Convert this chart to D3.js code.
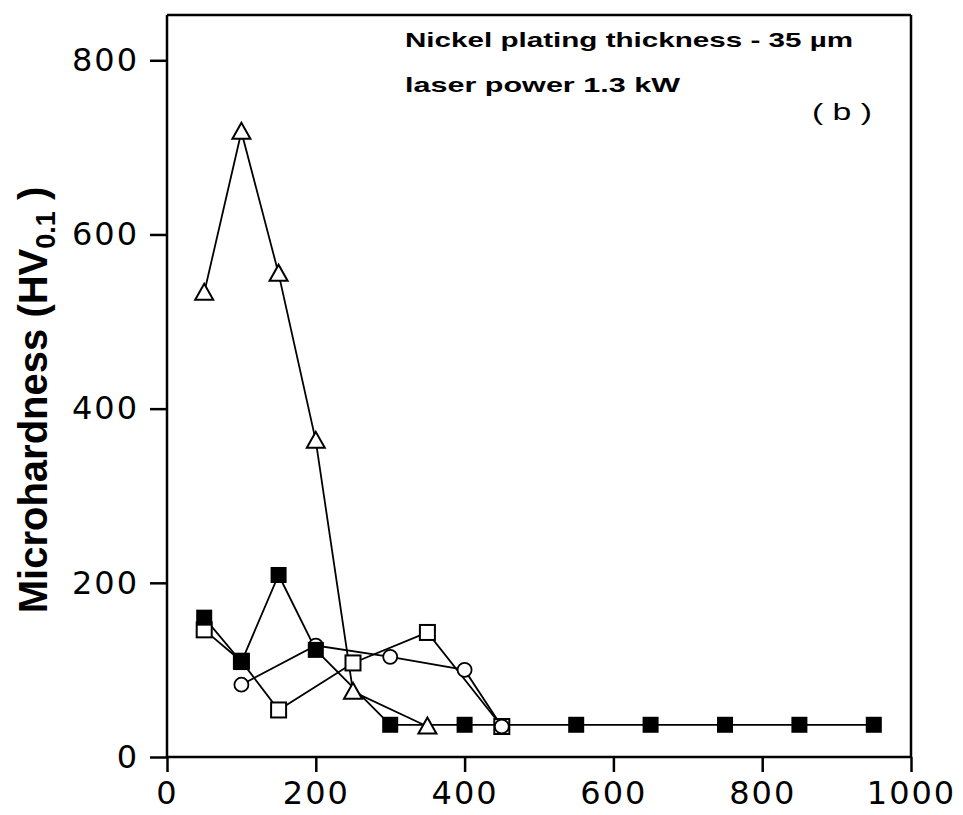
<!DOCTYPE html>
<html><head><meta charset="utf-8">
<script src="https://cdn.jsdelivr.net/npm/d3@7"></script>
<style>body{margin:0;background:#fff}</style>
</head><body>
<svg id="c" width="963" height="815"></svg>
<script>
const xTicks = [0,200,400,600,800,1000];
const yTicks = [0,200,400,600,800];
const triX = [50,100,150,200,250,350];
const triY = [533,718,555,363,75,35];
const filledX = [50,100,150,200,300,400,550,650,750,850,950];
const filledY = [160,109,209,123,37,37,37,37,37,37,37];
const openSqX = [50,100,150,250,350,450];
const openSqY = [146,110,54,108,143,35];
const circX = [100,200,300,400,450];
const circY = [83,128,115,100,35];
const note1 = "Nickel plating thickness -  35 µm";
const note2 = "laser power  1.3 kW";
const panel = "( b )";

const svg = d3.select("#c");
const x = d3.scaleLinear().domain([0,1000]).range([167,911]);
const y = d3.scaleLinear().domain([0,852]).range([757,15]);

// frame
const g = svg.append("g");
g.append("line").attr("x1",x(0)).attr("x2",x(1000)).attr("y1",y(852)).attr("y2",y(852)).attr("stroke","#000").attr("stroke-width",2.5);
g.append("line").attr("x1",x(1000)).attr("x2",x(1000)).attr("y1",y(852)).attr("y2",y(0)).attr("stroke","#000").attr("stroke-width",2.5);

const yAxis = d3.axisLeft(y).tickValues(yTicks).tickSize(17).tickPadding(11).tickFormat(d3.format("d"));
const xAxis = d3.axisBottom(x).tickValues(xTicks).tickSize(15).tickPadding(9).tickFormat(d3.format("d"));
const ya = svg.append("g").attr("transform",`translate(${x(0)},0)`).call(yAxis);
const xa = svg.append("g").attr("transform",`translate(0,${y(0)})`).call(xAxis);
[ya,xa].forEach(a=>{
  a.select(".domain").attr("stroke","#000").attr("stroke-width",2.5);
  a.selectAll(".tick line").attr("stroke","#000").attr("stroke-width",2.5);
  a.selectAll(".tick text").attr("fill","#000").style("font-family","DejaVu Sans, sans-serif").style("font-size","32px").style("letter-spacing","2px");
});
ya.select(".domain").attr("d",`M-0,${y(852)}V${y(0)}`);
xa.select(".domain").attr("d",`M${x(0)},0H${x(1000)}`);
xa.selectAll(".tick text").attr("dy","0.71em");

// lines
const line = d3.line().x(d=>x(d[0])).y(d=>y(d[1]));
const series = [
  {xs:openSqX, ys:openSqY},
  {xs:circX, ys:circY},
  {xs:triX, ys:triY},
  {xs:filledX, ys:filledY}
];
series.forEach(s=>{
  svg.append("path").datum(s.xs.map((v,i)=>[v,s.ys[i]])).attr("d",line)
    .attr("fill","none").attr("stroke","#000").attr("stroke-width",1.8);
});

// markers
svg.append("g").selectAll("rect").data(openSqX.map((v,i)=>[v,openSqY[i]])).join("rect")
  .attr("x",d=>x(d[0])-7.5).attr("y",d=>y(d[1])-7.5).attr("width",15).attr("height",15)
  .attr("fill","#fff").attr("stroke","#000").attr("stroke-width",2);
svg.append("g").selectAll("circle").data(circX.map((v,i)=>[v,circY[i]])).join("circle")
  .attr("cx",d=>x(d[0])).attr("cy",d=>y(d[1])).attr("r",7)
  .attr("fill","#fff").attr("stroke","#000").attr("stroke-width",1.8);
svg.append("g").selectAll("path").data(triX.map((v,i)=>[v,triY[i]])).join("path")
  .attr("d",d=>{const cx=x(d[0]),cy=y(d[1]);return `M${cx},${cy-9}L${cx+9},${cy+7}L${cx-9},${cy+7}Z`;})
  .attr("fill","#fff").attr("stroke","#000").attr("stroke-width",2);
svg.append("g").selectAll("rect").data(filledX.map((v,i)=>[v,filledY[i]])).join("rect")
  .attr("x",d=>x(d[0])-8).attr("y",d=>y(d[1])-8).attr("width",16).attr("height",16)
  .attr("fill","#000");

// annotations
const tf = "Liberation Sans, Arial, sans-serif";
svg.append("text").attr("x",405).attr("y",47).text(note1)
  .style("font-family",tf).style("font-weight","bold").style("font-size","21px").attr("textLength",448).attr("lengthAdjust","spacingAndGlyphs");
svg.append("text").attr("x",405).attr("y",92).text(note2)
  .style("font-family",tf).style("font-weight","bold").style("font-size","21px").attr("textLength",275).attr("lengthAdjust","spacingAndGlyphs");
svg.append("text").attr("x",812).attr("y",120).text(panel)
  .style("font-family",tf).style("font-size","24px").attr("textLength",60).attr("lengthAdjust","spacingAndGlyphs");

// y label
const yl = svg.append("text").attr("transform","translate(47,400) rotate(-90)").attr("text-anchor","middle")
  .style("font-family",tf).style("font-weight","bold").style("font-size","40px");
yl.append("tspan").text("Microhardness (HV");
yl.append("tspan").attr("dy",8).style("font-size","27px").text("0.1");
yl.append("tspan").attr("dy",-8).text(" )");
</script>
</body></html>
